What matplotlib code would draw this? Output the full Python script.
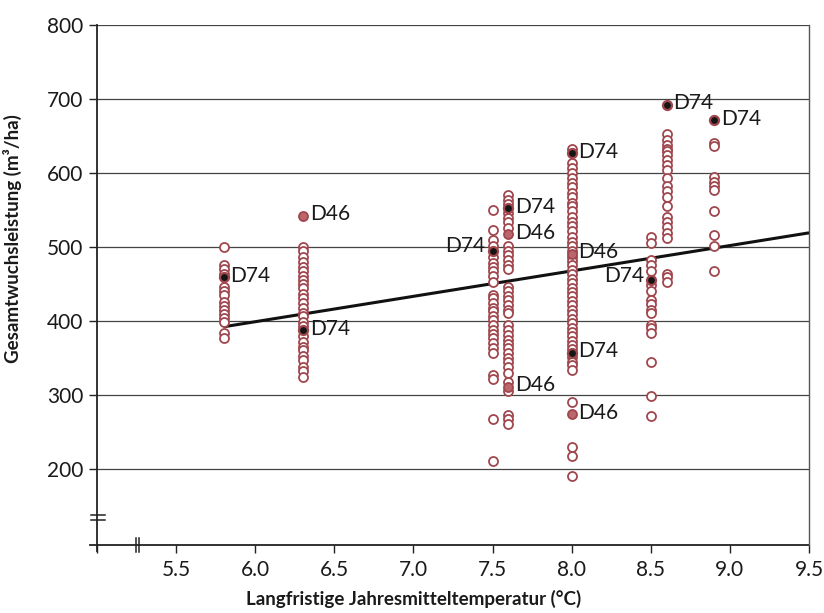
import matplotlib
matplotlib.use("Agg")
import matplotlib.pyplot as plt

plt.rcParams['font.family'] = ['Lato', 'DejaVu Sans']

# ---- data ----
temps = [5.8, 6.3, 7.5, 7.6, 8.0, 8.5, 8.6, 8.9]
values = {
    5.8: [500, 476, 470, 464, 446, 441, 435, 426, 420, 415, 409, 404, 398, 383, 377],
    6.3: [500, 494, 487, 480, 473, 467, 460, 455, 450, 444, 437, 431, 424, 417, 411,
          406, 399, 393, 379, 372, 365, 360, 353, 347, 338, 332, 324],
    7.5: [550, 523, 509, 501, 486, 478, 473, 467, 460, 453, 435, 431, 424, 417, 413,
          406, 401, 395, 388, 382, 377, 370, 363, 357, 327, 321, 267, 210],
    7.6: [570, 564, 558, 546, 539, 533, 525, 501, 495, 489, 482, 476, 470, 446, 441,
          434, 428, 422, 415, 410, 395, 388, 381, 374, 369, 363, 356, 350, 344, 338,
          329, 318, 305, 273, 267, 261],
    8.0: [633, 613, 606, 600, 593, 587, 581, 573, 567, 560, 555, 548, 541, 534, 528,
          522, 514, 507, 501, 494, 487, 481, 475, 469, 463, 457, 451, 445, 439, 433,
          427, 421, 415, 409, 403, 397, 391, 385, 379, 373, 367, 362, 351, 345, 340,
          334, 291, 230, 217, 190],
    8.5: [513, 505, 482, 476, 467, 449, 440, 428, 423, 415, 410, 395, 390, 383, 345,
          299, 272],
    8.6: [652, 645, 638, 632, 629, 624, 618, 611, 604, 593, 582, 575, 567, 555, 541,
          534, 527, 519, 512, 464, 459, 453],
    8.9: [641, 636, 595, 588, 582, 577, 548, 516, 501, 468],
}
# highlighted plots: (temperature, value, side of label)
d74_points = [(5.8, 459, 'right'), (6.3, 387, 'right'), (7.5, 495, 'left'),
              (7.6, 552, 'right'), (8.0, 627, 'right'), (8.0, 357, 'right'),
              (8.5, 455, 'left'), (8.6, 692, 'right'), (8.9, 671, 'right')]
d46_points = [(6.3, 542, 'right'), (7.6, 517, 'right'), (7.6, 311, 'right'),
              (8.0, 491, 'right'), (8.0, 274, 'right')]
trend_x = [5.8, 9.5]
trend_y = [392, 519]

yticks = [200, 300, 400, 500, 600, 700, 800]
xticks = [5.0, 5.5, 6.0, 6.5, 7.0, 7.5, 8.0, 8.5, 9.0, 9.5]
xticklabels = ['', '5.5', '6.0', '6.5', '7.0', '7.5', '8.0', '8.5', '9.0', '9.5']

# ---- figure ----
red = '#a0474e'
fig = plt.figure(figsize=(8.24, 6.13), dpi=100)
ax = fig.add_axes([97 / 824, 1 - 545 / 613, 712 / 824, 520 / 613])
ax.set_xlim(5.0, 9.5)
ax.set_ylim(97, 800)

for s in ax.spines.values():
    s.set_visible(False)

# gridlines
for yv in yticks:
    ax.axhline(yv, color='#444444', lw=0.9, zorder=1)

# axes lines (extend slightly past the corner)
ax.plot([0, 0], [-0.012, 1], transform=ax.transAxes, color='#222222', lw=1.3,
        clip_on=False, zorder=3)
ax.plot([-0.01, 1], [0, 0], transform=ax.transAxes, color='#222222', lw=1.3,
        clip_on=False, zorder=3)
ax.plot([1, 1], [0, 1], transform=ax.transAxes, color='#555555', lw=1.0,
        clip_on=False, zorder=3)

# break marks
for yy in (0.048, 0.057):
    ax.plot([-0.009, 0.011], [yy, yy], transform=ax.transAxes, color='#222222',
            lw=1.1, clip_on=False, zorder=4)
for xx in (0.0545, 0.0585):
    ax.plot([xx, xx], [-0.014, 0.014], transform=ax.transAxes, color='#222222',
            lw=1.1, clip_on=False, zorder=4)

# trend line
ax.plot(trend_x, trend_y, color='#111111', lw=2.2, zorder=5, solid_capstyle='butt')

# data points
for t in temps:
    ys = values[t]
    ax.plot([t] * len(ys), ys, linestyle='none', marker='o', ms=6.5, mew=1.3,
            mec=red, mfc='white', zorder=6)

for t, v, side in d46_points:
    ax.plot([t], [v], linestyle='none', marker='o', ms=6.5, mew=1.3,
            mec=red, mfc='#b9676c', zorder=7)
for t, v, side in d74_points:
    ax.plot([t], [v], linestyle='none', marker='o', ms=6.5, mew=1.6,
            mec=red, mfc='#151515', zorder=7)

for pts, lab in ((d74_points, 'D74'), (d46_points, 'D46')):
    for t, v, side in pts:
        if side == 'right':
            ax.annotate(lab, (t, v), xytext=(5, 1), textcoords='offset points',
                        ha='left', va='center', fontsize=15, color='#1a1a1a', zorder=8)
        else:
            ax.annotate(lab, (t, v), xytext=(-5, 3), textcoords='offset points',
                        ha='right', va='center', fontsize=15, color='#1a1a1a', zorder=8)

# ticks
ax.set_yticks(yticks)
ax.set_yticklabels([str(v) for v in yticks])
ax.set_xticks(xticks)
ax.set_xticklabels(xticklabels)
ax.tick_params(axis='y', direction='out', length=6, width=1.0, color='#222222',
               labelsize=15, pad=4, labelcolor='#1a1a1a')
ax.tick_params(axis='x', direction='out', length=5.5, width=1.0, color='#222222',
               labelsize=15, pad=5, labelcolor='#1a1a1a')

ax.set_ylabel('Gesamtwuchsleistung (m³/ha)', fontsize=13.5, fontweight='bold',
              color='#1a1a1a')
ax.yaxis.set_label_coords(-0.105, 0.59)
ax.set_xlabel('Langfristige Jahresmitteltemperatur (°C)', fontsize=13.5,
              fontweight='bold', color='#1a1a1a')
ax.xaxis.set_label_coords(0.444, -0.086)

fig.savefig('out.png', dpi=100)
